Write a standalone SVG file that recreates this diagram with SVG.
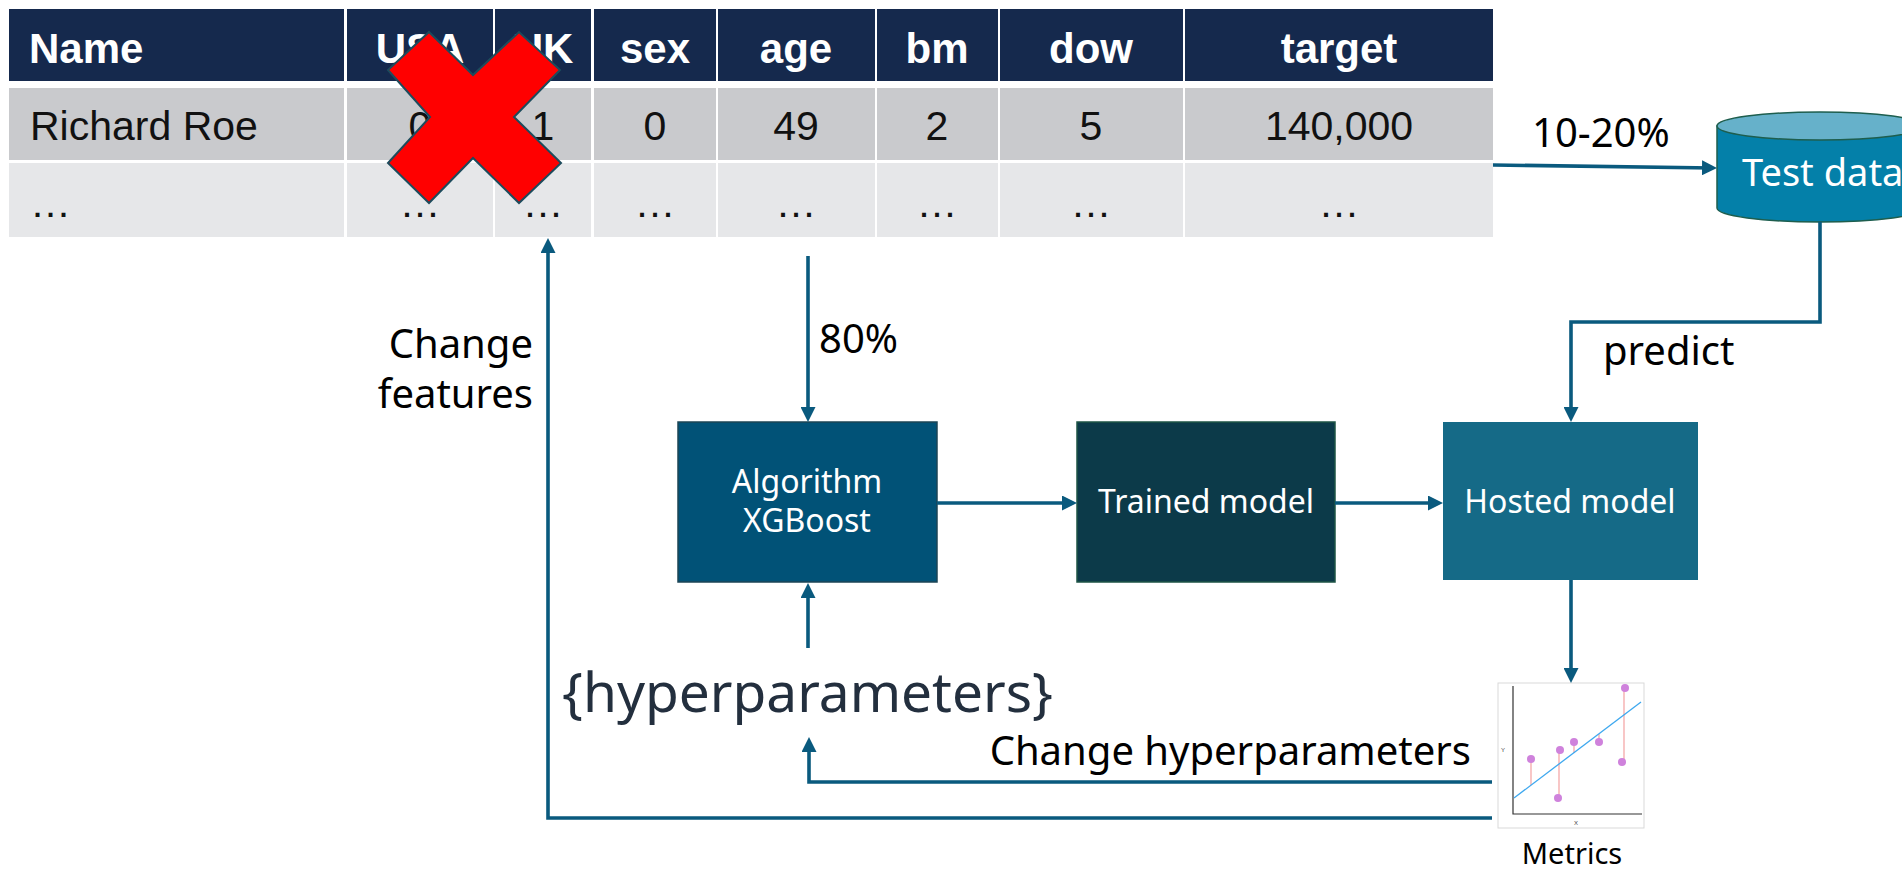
<svg xmlns="http://www.w3.org/2000/svg" width="1902" height="869" viewBox="0 0 1902 869">
<style>
.hd{fill:#15294d}
.r1{fill:#c9cacd}
.r2{fill:#e6e7e9}
.th{font-family:"Liberation Sans",Arial,sans-serif;font-weight:bold;font-size:42px;fill:#fff}
.td{font-family:"Liberation Sans",Arial,sans-serif;font-size:41px;fill:#111}
.lbl{font-family:"Noto Sans","Open Sans",sans-serif;font-size:40px;fill:#000}
.bx{font-family:"Noto Sans","Open Sans",sans-serif;font-size:32px;fill:#fff}
.con{fill:none;stroke:#0a5a7e;stroke-width:3.6;marker-end:url(#ah)}
</style>
<defs>
<marker id="ah" markerWidth="15" markerHeight="15" refX="11" refY="7.5" orient="auto" markerUnits="userSpaceOnUse"><path d="M0,0 L15,7.5 L0,15 Z" fill="#0a5a7e"/></marker>
</defs>
<rect width="1902" height="869" fill="#fff"/>
<g id="table">
<rect class="hd" x="9" y="9" width="335" height="72"/>
<rect class="hd" x="347" y="9" width="146" height="72"/>
<rect class="hd" x="495" y="9" width="96" height="72"/>
<rect class="hd" x="594" y="9" width="122" height="72"/>
<rect class="hd" x="718" y="9" width="157" height="72"/>
<rect class="hd" x="877" y="9" width="121" height="72"/>
<rect class="hd" x="1000" y="9" width="183" height="72"/>
<rect class="hd" x="1185" y="9" width="308" height="72"/>
<rect class="r1" x="9" y="88" width="335" height="72"/>
<rect class="r1" x="347" y="88" width="146" height="72"/>
<rect class="r1" x="495" y="88" width="96" height="72"/>
<rect class="r1" x="594" y="88" width="122" height="72"/>
<rect class="r1" x="718" y="88" width="157" height="72"/>
<rect class="r1" x="877" y="88" width="121" height="72"/>
<rect class="r1" x="1000" y="88" width="183" height="72"/>
<rect class="r1" x="1185" y="88" width="308" height="72"/>
<rect class="r2" x="9" y="163" width="335" height="74"/>
<rect class="r2" x="347" y="163" width="146" height="74"/>
<rect class="r2" x="495" y="163" width="96" height="74"/>
<rect class="r2" x="594" y="163" width="122" height="74"/>
<rect class="r2" x="718" y="163" width="157" height="74"/>
<rect class="r2" x="877" y="163" width="121" height="74"/>
<rect class="r2" x="1000" y="163" width="183" height="74"/>
<rect class="r2" x="1185" y="163" width="308" height="74"/>
<text class="th" x="29" y="63">Name</text>
<g class="th" text-anchor="middle">
<text x="420" y="63">USA</text>
<text x="543" y="63">UK</text>
<text x="655" y="63">sex</text>
<text x="796" y="63">age</text>
<text x="937" y="63">bm</text>
<text x="1091" y="63">dow</text>
<text x="1339" y="63">target</text>
</g>
<text class="td" x="30" y="140">Richard Roe</text>
<g class="td" text-anchor="middle">
<text x="420" y="140">0</text>
<text x="543" y="140">1</text>
<text x="655" y="140">0</text>
<text x="796" y="140">49</text>
<text x="937" y="140">2</text>
<text x="1091" y="140">5</text>
<text x="1339" y="140">140,000</text>
</g>
<text class="td" x="30" y="217">…</text>
<g class="td" text-anchor="middle">
<text x="420" y="217">…</text>
<text x="543" y="217">…</text>
<text x="655" y="217">…</text>
<text x="796" y="217">…</text>
<text x="937" y="217">…</text>
<text x="1091" y="217">…</text>
<text x="1339" y="217">…</text>
</g>
</g>
<g id="cross">
<polygon points="429,32 473,75 519,32 560,70 514,117 561,163 519,203 473,158 429,203 388,163 430,117 388,70" fill="#ff0000" stroke="#1d4b5c" stroke-width="2"/>
</g>
<g id="test-data">
<path d="M1717,126 V208 A103,14 0 0 0 1923,208 V126 Z" fill="#0480a9" stroke="#1e5e4e" stroke-width="1.5"/>
<ellipse cx="1820" cy="126" rx="103" ry="14" fill="#66b1ca" stroke="#1e5e4e" stroke-width="1.5"/>
<text x="1742" y="186" font-family="Noto Sans, Open Sans, sans-serif" font-size="38" fill="#fff">Test data</text>
</g>
<g id="algorithm">
<rect x="678" y="422" width="259" height="160" fill="#015277" stroke="#1c4556" stroke-width="1.5"/>
<text class="bx" x="807" y="493" text-anchor="middle">Algorithm</text>
<text class="bx" x="807" y="532" text-anchor="middle">XGBoost</text>
</g>
<g id="trained-model">
<rect x="1077" y="422" width="258" height="160" fill="#0c3a49" stroke="#1e5446" stroke-width="1.5"/>
<text class="bx" x="1206" y="513" text-anchor="middle" font-size="33">Trained model</text>
</g>
<g id="hosted-model">
<rect x="1443" y="422" width="255" height="158" fill="#156a87"/>
<text class="bx" x="1570" y="513" text-anchor="middle" font-size="33">Hosted model</text>
</g>
<g id="hyperparameters">
<text x="562" y="712" font-family="Noto Sans, Open Sans, sans-serif" font-size="55" fill="#232f3e">{hyperparameters}</text>
</g>
<g id="metrics">
<rect x="1498" y="683" width="146" height="145" fill="#fff" stroke="#d9d9d9" stroke-width="1"/>
<path d="M1513,686 V814 H1642" fill="none" stroke="#333" stroke-width="1.2"/>
<text x="1501" y="752" font-family="Liberation Sans, sans-serif" font-size="6" fill="#444">Y</text>
<text x="1574" y="825" font-family="Liberation Sans, sans-serif" font-size="6" fill="#444">X</text>
<g stroke="#f4a1a1" stroke-width="1.2">
<line x1="1531" y1="759" x2="1531" y2="785"/>
<line x1="1559" y1="750" x2="1559" y2="798"/>
<line x1="1574" y1="742" x2="1574" y2="753"/>
<line x1="1599" y1="734" x2="1599" y2="742"/>
<line x1="1624" y1="688" x2="1624" y2="762"/>
</g>
<line x1="1514" y1="798" x2="1641" y2="702" stroke="#3ea8ef" stroke-width="1.3"/>
<g fill="#cf82dc">
<circle cx="1531" cy="759" r="4"/>
<circle cx="1560" cy="750" r="4"/>
<circle cx="1558" cy="798" r="4"/>
<circle cx="1574" cy="742" r="4"/>
<circle cx="1599" cy="742" r="4"/>
<circle cx="1625" cy="688" r="4"/>
<circle cx="1622" cy="762" r="4"/>
</g>
<text x="1572" y="864" text-anchor="middle" font-family="Noto Sans, Open Sans, sans-serif" font-size="29" fill="#000">Metrics</text>
</g>
<g id="connectors">
<path class="con" d="M1493,165 L1713,168"/>
<path class="con" d="M1820,222 V322 H1571 V418"/>
<path class="con" d="M808,256 V418"/>
<path class="con" d="M937,503 H1073"/>
<path class="con" d="M1335,503 H1439"/>
<path class="con" d="M1571,580 V679"/>
<path class="con" d="M808,648 V587"/>
<path class="con" d="M1492,782 H809 V741"/>
<path class="con" d="M1492,818 H548 V242"/>
<text class="lbl" x="1532" y="147" font-size="43">10-20%</text>
<text class="lbl" x="1603" y="365">predict</text>
<text class="lbl" x="819" y="353">80%</text>
<text class="lbl" x="533" y="358" text-anchor="end" font-size="39">Change</text>
<text class="lbl" x="533" y="408" text-anchor="end" font-size="39">features</text>
<text class="lbl" x="1471" y="765" text-anchor="end">Change hyperparameters</text>
</g>
</svg>
